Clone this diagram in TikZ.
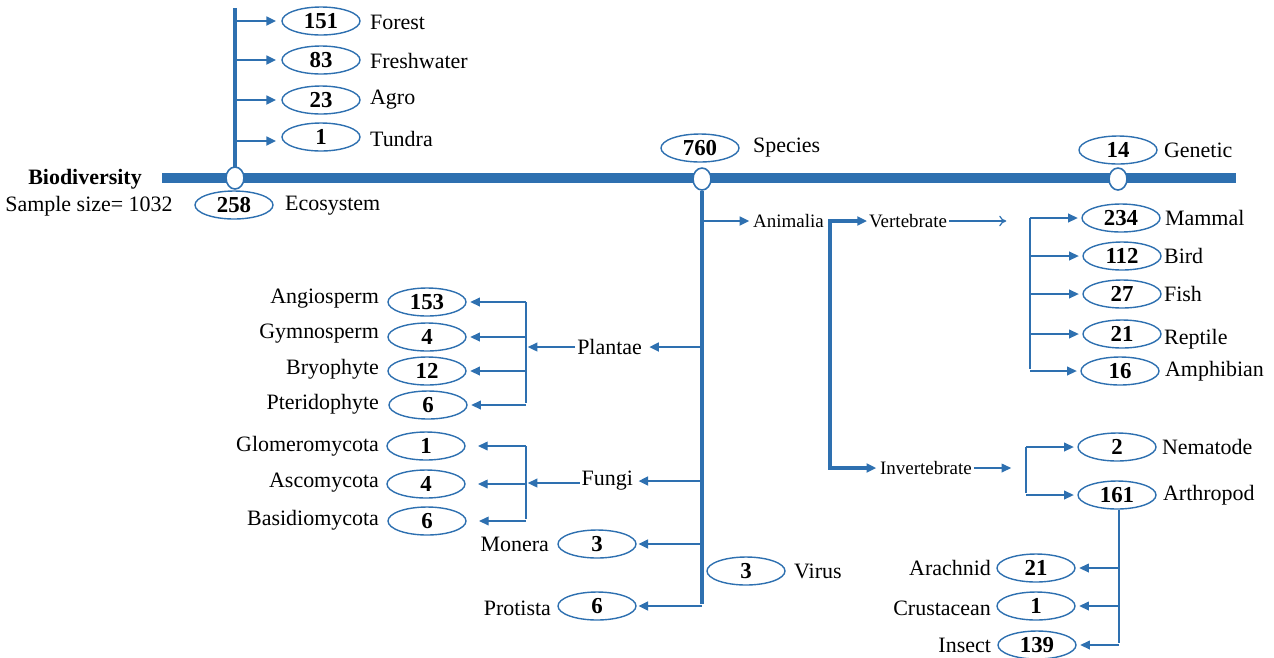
\documentclass[tikz,border=0pt]{standalone}
\usepackage{fontspec}
\setmainfont{Liberation Serif}
\usetikzlibrary{arrows.meta,shapes.geometric}
\definecolor{barblue}{RGB}{46,112,176}

\begin{document}
\begin{tikzpicture}[
     x = 0.02cm, y = -0.02cm, % pixel grid, y pointing down
     > = {Triangle[length=5.5pt,width=5pt]}, % arrow head style
     shorten > = 1pt,
     font = \fontsize{12.5}{14}\selectfont
 ]

 \tikzstyle{count}=[
     draw = barblue,
     ellipse,
     line width = 0.8pt,
     minimum width = 1.56cm,
     minimum height = 0.56cm,
     inner sep = 0pt,
     font = \fontsize{13}{14}\selectfont\bfseries
 ]
 \tikzstyle{joint}=[
     draw = barblue,
     fill = white,
     ellipse,
     line width = 0.9pt,
     minimum width = 0.36cm,
     minimum height = 0.44cm,
     inner sep = 0pt
 ]
 \tikzstyle{lname} = [inner sep=1pt, anchor=west]
 \tikzstyle{rname} = [inner sep=1pt, anchor=east]
 \tikzstyle{small} = [font=\fontsize{10.8}{12}\selectfont]
 \tikzstyle{bar} = [draw=barblue, line width=5.7pt]
 \tikzstyle{trunk} = [draw=barblue, line width=2.2pt]
 \tikzstyle{stem} = [draw=barblue, line width=1.3pt, ->]
 \tikzstyle{twig} = [draw=barblue, line width=0.7pt]

 \useasboundingbox (0,0) rectangle (1274,657);

 % main bar and the three levels
 \coordinate (barL) at (162,178);
 \coordinate (barR) at (1238,178);
 \draw[bar] (barL) -- (barR);
 \node[font=\fontsize{12.5}{14}\selectfont\bfseries] (bio) at (85,179) {Biodiversity};
 \node (sample) at (89,206) {Sample size= 1032};

 \coordinate (ecoTop) at (235,8);
 \draw[trunk] (ecoTop) -- (235,178);
 \node[joint] (ecoJ) at (235,178) {};
 \node[count] (eco) at (234,205) {258};
 \node[lname] (ecoT) at (283,206) {Ecosystem};

 \node[joint] (spJ) at (702,179) {};
 \node[count] (sp) at (700,148) {760};
 \node[lname] (spT) at (751,148) {Species};

 \node[joint] (geJ) at (1118,179) {};
 \node[count] (ge) at (1118,150) {14};
 \node[lname] (geT) at (1162,150) {Genetic};

 % ecosystem
 \node[count] (forest) at (321,21) {151};
 \node[count] (fresh) at (321,60) {83};
 \node[count] (agro) at (321,100) {23};
 \node[count] (tundra) at (321,137) {1};
 \node[lname] at (368,22) {Forest};
 \node[lname] at (368,61) {Freshwater};
 \node[lname] at (368,100) {Agro};
 \node[lname] at (368,139) {Tundra};
 \draw[stem, shorten >=3pt] (ecoTop |- forest) -- (forest.west);
 \draw[stem, shorten >=3pt] (ecoTop |- fresh) -- (fresh.west);
 \draw[stem, shorten >=3pt] (ecoTop |- agro) -- (agro.west);
 \draw[stem, shorten >=3pt] (235,141) -- (tundra.west |- 0,141);

 % species trunk
 \coordinate (spBot) at (702,606);
 \draw[trunk] (spJ.south) -- (spBot);

 % animalia
 \node[lname, small] (anim) at (751,221) {Animalia};
 \draw[stem] (spJ |- anim) -- (anim.west);
 \node[lname, small] (vert) at (867,221) {Vertebrate};
 \node[lname, small] (invert) at (878,468) {Invertebrate};
 \coordinate (anB) at (830,221);
 \draw[stem, line width=1.8pt, <->] (vert.west) -- (anB) -- (anB |- invert) -- (invert.west);
 \coordinate (vertEnd) at (1008,221);
 \draw[twig, -{To[length=4pt,width=6pt]}] (vert.east) -- (vertEnd);
 \coordinate (invEnd) at (1013,468);
 \draw[twig, ->] (invert.east) -- (invEnd);

 % vertebrates
 \node[count] (mammal) at (1121,218) {234};
 \node[count] (bird) at (1122,256) {112};
 \node[count] (fish) at (1122,294) {27};
 \node[count] (reptile) at (1122,334) {21};
 \node[count] (amphib) at (1120,371) {16};
 \node[lname] at (1163,218) {Mammal};
 \node[lname] at (1162,256) {Bird};
 \node[lname] at (1162,294) {Fish};
 \node[lname] at (1162,339) {Reptile};
 \node[lname] at (1163,371) {Amphibian};
 \coordinate (veB) at (1030,218);
 \draw[twig] (veB) -- (veB |- amphib);
 \draw[twig, ->, shorten >=2pt] (veB) -- (mammal.west);
 \draw[twig, ->, shorten >=2pt] (veB |- bird) -- (bird.west);
 \draw[twig, ->, shorten >=2pt] (veB |- fish) -- (fish.west);
 \draw[twig, ->, shorten >=2pt] (veB |- reptile) -- (reptile.west);
 \draw[twig, ->, shorten >=2pt] (veB |- amphib) -- (amphib.west);

 % invertebrates
 \node[count] (nema) at (1117,447) {2};
 \node[count] (arthro) at (1117,495) {161};
 \node[lname] at (1160,447) {Nematode};
 \node[lname] at (1161,495) {Arthropod};
 \coordinate (inB) at (1026,447);
 \draw[twig] (inB) -- (inB |- arthro);
 \draw[twig, ->, shorten >=2pt] (inB) -- (nema.west);
 \draw[twig, ->, shorten >=2pt] (inB |- arthro) -- (arthro.west);

 % arthropods
 \node[count] (arach) at (1036,568) {21};
 \node[count] (crust) at (1036,606) {1};
 \node[count] (insect) at (1037,645) {139};
 \node[rname] at (993,568) {Arachnid};
 \node[rname] at (993,608) {Crustacean};
 \node[rname] at (993,645) {Insect};
 \coordinate (arB) at (1119,645);
 \draw[twig] (arthro.south -| arB) -- (arB);
 \draw[twig, ->, shorten >=2pt] (arB |- arach) -- (arach.east);
 \draw[twig, ->, shorten >=2pt] (arB |- crust) -- (crust.east);
 \draw[twig, ->, shorten >=2pt] (arB) -- (insect.east);

 % plantae
 \node[rname] (plantae) at (644,347) {Plantae};
 \draw[stem, shorten >=3pt] (spJ |- plantae) -- (plantae.east);
 \coordinate (plB) at (526,347);
 \draw[draw=barblue, line width=1.1pt, ->] (plantae.west) -- (plB);
 \node[count] (angio) at (427,302) {153};
 \node[count] (gymno) at (427,337) {4};
 \node[count] (bryo) at (427,371) {12};
 \node[count] (pteri) at (428,405) {6};
 \node[rname] at (381,299) {Angiosperm};
 \node[rname] at (381,334) {Gymnosperm};
 \node[rname] at (381,369) {Bryophyte};
 \node[rname] at (381,404) {Pteridophyte};
 \draw[twig] (plB |- angio) -- (plB |- pteri);
 \draw[twig, ->, shorten >=2pt] (plB |- angio) -- (angio.east);
 \draw[twig, ->, shorten >=2pt] (plB |- gymno) -- (gymno.east);
 \draw[twig, ->, shorten >=2pt] (plB |- bryo) -- (bryo.east);
 \draw[twig, ->, shorten >=2pt] (plB |- pteri) -- (pteri.east);

 % fungi
 \node[rname] (fungi) at (635,481) {Fungi};
 \draw[stem, shorten >=2pt] (spJ |- fungi) -- (fungi.east);
 \coordinate (fuB) at (526,483);
 \draw[draw=barblue, line width=1.1pt, ->] (fungi.west |- fuB) -- (fuB);
 \node[count] (glom) at (426,446) {1};
 \node[count] (asco) at (426,484) {4};
 \node[count] (basi) at (427,521) {6};
 \node[rname] at (381,446) {Glomeromycota};
 \node[rname] at (381,483) {Ascomycota};
 \node[rname] at (381,520) {Basidiomycota};
 \draw[twig] (fuB |- glom) -- (fuB |- basi);
 \draw[twig, ->, shorten >=7pt] (fuB |- glom) -- (glom.east);
 \draw[twig, ->, shorten >=7pt] (fuB |- asco) -- (asco.east);
 \draw[twig, ->, shorten >=7pt] (fuB |- basi) -- (basi.east);

 % monera, virus, protista
 \node[count] (monera) at (597,544) {3};
 \node[rname] at (551,544) {Monera};
 \draw[stem] (spJ |- monera) -- (monera.east);
 \node[count] (virus) at (746,571) {3};
 \node[lname] at (792,571) {Virus};
 \node[count] (protista) at (597,606) {6};
 \node[rname] at (553,608) {Protista};
 \draw[stem] (spBot) -- (protista.east);
\end{tikzpicture}
\end{document}
